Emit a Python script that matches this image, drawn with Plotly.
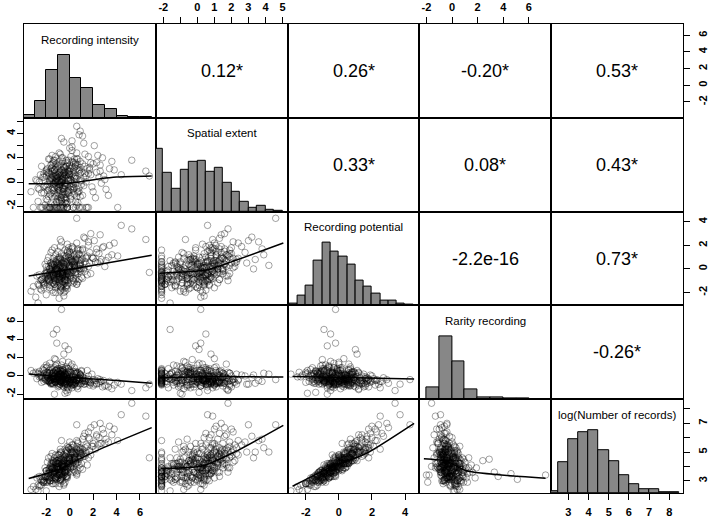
import plotly.graph_objects as go
from plotly.subplots import make_subplots

# ---------------- data (estimated) ----------------
var_names = ["Recording intensity", "Spatial extent", "Recording potential",
             "Rarity recording", "log(Number of records)"]

recording_intensity = [
    -0.6, -1.4, 0.4, 2.3, -2.2, -0.9, 1.1, -1.7, 0.2, -0.3,
    -1.1, -0.4, 0.7, -1.9, -0.8, 1.6, -2.7, -0.2, 0.9, -1.3,
    -0.7, 3.4, -1.6, 0.1, -0.5, -2.4, 1.4, -1.0, -0.1, 0.6,
    -1.8, -0.3, 2.0, -1.2, 0.3, -0.8, -1.5, 4.4, -0.6, 0.8,
    -2.0, -0.2, 1.2, -1.1, 0.0, -0.9, -3.3, 0.5, -1.4, 1.9,
    -0.4, -1.7, 0.9, -0.7, 2.8, -1.2, -0.1, 0.4, -2.1, -0.5,
    1.5, -1.0, 0.2, -2.5, -0.8, 3.1, -1.3, 0.6, -0.3, -1.6,
    1.0, -0.9, -0.2, 2.5, -1.9, 0.0, -1.1, 0.7, -0.6, 1.3,
    -2.3, -0.4, 0.3, -1.5, 5.3, -0.7, 0.8, -1.2, 1.7, -0.1,
    -2.8, 0.5, -0.9, 2.2, -1.4, -0.5, 0.1, -1.8, 6.5, -0.3,
    -1.0, 1.1, -2.0, -0.6, 0.4, -1.3, 0.9, -0.2, -1.6, 1.8,
    -0.8, 0.2, -1.1, 2.6, -0.4, -2.6, 0.6, -0.7, 1.4, -1.5,
    0.0, -1.9, 3.0, -0.9, 0.3, -0.2, -1.2, 1.0, -0.5, 2.1,
    -1.7, -0.3, 0.7, -1.0, 4.1, -0.6, 0.1, -2.2, 1.6, -0.8,
    -1.4, 0.5, -0.1, -1.8, 0.8, -0.4, 2.4, -1.1, 0.2, -0.7,
    -3.1, 1.2, -0.5, -1.6, 0.6, -0.9, 3.6, -0.2, -1.3, 0.9,
    -2.0, 0.0, -0.8, 1.5, -1.2, 0.4, -0.4, 2.7, -1.7, -0.1,
    6.8, -0.6, 0.7, -1.5, 0.3, -0.9, -2.4, 1.1, -0.3, -1.0,
    1.8, -0.7, 0.1, -1.9, 0.5, -0.5, 2.9, -1.3, 0.8, -0.2,
    -1.1, 1.3, -0.8, -2.9, 0.2, 3.3, -0.6, -1.5, 0.6, -0.4,
    -1.2, -0.5, -1.8, 0.3, -0.9, -1.5, 0.1, -0.7, -2.2, -0.2,
    -1.0, 0.6, -1.4, -0.6, -1.7, 0.0, -0.8, -1.3, 0.5, -0.4,
    -1.1, -2.5, 0.2, -0.9, -1.6, -0.3, 1.2, -1.2, -0.1, -2.0,
    -0.7, 0.8, -1.4, -0.5, -1.9, 0.4, -1.0, -0.2, -1.5, 1.6,
    -0.6, -1.1, 0.0, -2.3, -0.8, 0.7, -1.3, -0.4, -1.7, 0.3,
    -0.9, -1.6, 0.9, -0.3, -1.2, -0.1, -2.1, 0.2, -0.8, -1.4,
    1.4, -0.5, -1.0, -2.6, 0.1, -0.7, -1.5, 0.6, -0.2, -1.1,
    -0.6, -1.8, 0.4, -0.4, -1.3, 2.0, -0.9, -0.1, -1.6, 0.9,
    -0.5, -2.0, -0.8, 0.3, -1.2, -0.3, 1.0, -1.4, -0.6, -2.4,
    0.0, -1.0, -0.2, -1.7, 0.7, -0.7, -1.5, 0.5, -0.9, -1.9,
    1.7, -0.4, -1.1, 0.2, -1.3, -0.6, 2.6, -2.2, -0.1, -0.8,
    0.5, -1.6, -0.3, 1.1, -1.0, -0.5, -1.4, 0.1, -0.7, -2.0,
    0.8, -0.9, -1.2, 0.0, -0.4, 3.8, -1.8, -0.2, 0.6, -1.1,
    -0.6, -1.5, 0.3, -0.8, 1.3, -2.7, -0.3, -1.0, 0.4, -1.3,
    -0.5, -2.1, 0.9, -0.7, -1.7, 0.1, -0.9, 2.3, -1.2, -0.4,
]

spatial_extent = [
    0.3, -2.1, 1.2, 0.8, -0.4, 1.7, -1.1, 0.1, 2.6, -1.8,
    -2.1, 0.6, 1.4, -0.7, 0.2, 2.1, -1.6, -0.2, -2.1, 0.9,
    -1.3, 1.1, 0.4, -0.6, 1.3, -2.1, 0.0, -0.9, 1.8, -1.9,
    0.7, 0.5, 1.5, -0.3, -2.1, 2.3, -1.2, 0.6, -0.5, 0.9,
    1.0, -1.7, 3.2, 0.2, 1.1, -2.1, -0.8, 0.3, 1.6, -0.4,
    -1.4, -2.1, 0.7, 0.0, 2.0, 1.2, -0.9, 1.9, -1.9, 0.8,
    -2.1, 0.4, -0.1, 0.6, 1.4, -0.6, -0.5, 2.4, -2.1, 0.9,
    0.1, -1.0, 1.5, 0.4, -0.2, 2.8, -1.6, -0.8, 0.6, 1.3,
    -2.1, -0.3, 0.5, 2.2, 1.8, -1.1, -2.1, 0.3, 1.0, -0.7,
    0.1, 1.6, -0.4, -1.3, 0.5, -2.1, 0.2, 1.9, 0.9, -1.5,
    0.0, 3.8, -2.1, 1.0, -0.5, -0.9, 1.2, 0.3, -1.8, 0.6,
    -0.1, 1.7, -2.1, 1.4, 0.8, -0.6, -1.2, 2.0, -2.1, 0.2,
    -0.3, 1.1, 0.2, -1.5, 0.9, -2.1, 1.5, -0.2, 0.4, 3.0,
    -1.0, 1.3, -1.7, 0.6, -2.1, -0.8, 2.1, 0.4, 0.7, -0.2,
    1.8, -2.1, 0.1, -0.6, 1.0, -1.0, 2.2, 0.5, -0.4, 3.6,
    -2.1, 0.4, -1.3, 1.4, -0.6, 0.8, 1.7, -2.1, -0.1, 4.2,
    -1.4, 0.9, -0.7, 1.1, 0.0, -1.0, 1.2, -0.1, -2.1, 0.7,
    0.5, -1.9, 1.9, 0.3, -0.4, 2.4, -0.9, -2.1, 0.6, -0.5,
    1.6, 0.2, -1.2, 0.8, 1.5, -2.1, 0.5, 1.0, -0.8, 0.1,
    -1.7, 2.3, -0.3, 0.2, 1.3, -1.1, 0.5, -2.1, 4.6, -0.1,
    0.5, -0.8, -2.1, 1.6, 0.1, 1.2, -0.4, -1.6, 0.7, 1.0,
    -2.1, 0.3, -0.5, 2.0, 0.0, -1.1, 0.8, -1.9, 1.3, -0.2,
    1.5, -2.1, 0.6, -0.7, 0.3, 1.8, -0.3, -1.2, 0.4, 0.9,
    -2.1, 3.9, -0.1, 0.7, -1.5, 0.0, 1.1, -0.9, 0.6, -2.1,
    0.2, -0.4, 1.4, 0.4, -1.3, 1.0, -2.1, 0.9, 1.9, -0.6,
    0.4, -0.9, 1.7, -1.8, 0.8, 0.1, -0.3, 3.4, -2.1, 0.2,
    0.5, -0.5, 1.3, 0.0, -1.4, 0.6, -0.6, 1.1, -2.1, 0.0,
    1.7, -1.2, 0.3, -0.1, 1.0, -0.8, -1.7, 0.9, -2.1, 0.1,
    1.2, -0.4, 0.5, -0.2, 2.1, -1.0, 0.8, -0.2, -2.1, 1.3,
    0.6, -0.6, 1.6, 0.2, -0.9, 0.0, 1.5, -1.6, 0.7, -2.1,
    1.2, 0.3, -1.1, 2.9, 0.4, -0.4, 0.9, -0.9, 0.8, -2.1,
    0.5, 1.1, -1.3, 1.5, 0.1, 3.3, -0.7, 0.2, -1.5, 0.5,
    -0.5, 1.4, -2.1, 0.7, -0.3, 1.0, 0.8, -0.8, 1.9, 0.3,
    -1.0, 0.9, -2.1, 0.0, 0.7, -0.5, 1.3, -1.4, 0.4, 1.8,
    -0.6, 0.1, -1.2, 1.0, -2.1, 1.1, -0.2, 1.6, 0.6, -1.7,
]

recording_potential = [
    -0.5, -1.2, 0.6, 1.4, -1.6, 0.2, -0.8, -0.3, 1.9, -0.9,
    -0.7, -1.1, 0.9, -0.6, 0.1, 2.3, -2.9, -0.4, -0.2, -0.8,
    -1.4, 2.0, 0.3, -0.6, 0.7, -1.8, 0.4, -0.1, 1.2, -1.3,
    -0.9, 0.5, 0.9, -1.0, 0.6, 0.8, -0.5, 3.7, -1.7, 0.0,
    -0.4, -0.7, 2.7, -0.2, 1.5, -2.5, -1.9, -0.3, 0.4, 1.0,
    -0.6, -1.1, 1.6, -0.8, 1.8, 0.0, -1.2, 0.3, -0.4, 1.1,
    -0.5, -1.4, 0.2, -1.0, 1.9, 0.7, -0.3, 2.2, -1.5, 0.5,
    -0.7, 0.6, -0.2, 1.3, -1.3, 1.4, -0.9, 0.1, -0.4, 2.6,
    -0.8, 0.9, -1.0, 0.2, 3.4, -0.1, 0.3, -2.0, 0.5, 0.0,
    -0.6, 0.8, -1.2, 0.6, -0.5, 0.1, -0.8, 1.0, 2.5, -1.6,
    0.4, 1.7, -2.2, -0.3, 1.2, -0.7, 0.0, 2.1, -0.2, -0.4,
    -1.5, 0.6, -0.4, 2.9, -0.9, -1.4, -0.2, 1.3, 0.9, -1.8,
    0.3, 0.7, 0.2, -0.6, 1.8, -1.0, -0.1, 0.8, -2.3, 2.4,
    0.0, 0.4, -1.1, 1.5, 1.1, -0.5, 0.9, -1.2, 2.0, 0.2,
    -0.6, -0.9, 1.0, -0.8, 0.7, -1.9, 0.5, 0.6, -0.3, 2.3,
    -1.5, 0.1, 0.5, 1.4, -1.3, -0.7, 1.2, -0.3, 1.8, 0.3,
    -1.0, 0.2, 2.5, 1.1, -1.6, 0.4, -1.2, 0.8, -0.6, 0.7,
    -0.3, -1.3, 1.6, 0.1, -0.1, 0.9, -0.9, 1.6, -0.5, 0.8,
    3.0, -0.2, -0.4, -0.3, 0.0, -2.0, 1.9, 0.3, 1.3, -1.4,
    0.2, 0.6, -0.4, -2.4, 1.7, 1.0, 0.1, 0.4, 4.3, -0.7,
    -0.6, -0.2, -1.0, 0.4, -1.1, 0.3, 0.8, -0.5, -1.4, -0.1,
    -0.8, 1.0, -0.4, 0.5, -1.6, 0.1, 0.9, -1.3, -0.3, -0.9,
    0.0, -1.7, 0.6, 0.3, -0.7, 1.1, 0.0, -1.1, -0.5, -0.2,
    -0.3, 1.2, 0.6, -1.3, -0.9, 0.2, -0.5, 1.4, -0.1, 0.2,
    -0.7, 0.8, 0.0, -1.1, -1.5, 1.7, -0.2, 0.2, -0.4, -0.8,
    0.1, -0.6, 0.7, -1.0, 1.2, -0.4, -0.8, 0.8, -1.9, -0.3,
    1.0, 0.4, -0.9, -0.5, -0.2, 0.7, -1.2, 0.3, 0.6, -0.1,
    -0.6, 0.2, -1.1, 1.6, 0.4, 0.9, -0.7, -0.2, -1.4, 0.5,
    -0.3, -0.3, -1.8, 1.1, 0.1, -0.6, 0.0, 0.9, -1.1, -0.9,
    0.3, -0.2, 1.5, -1.0, -0.4, 0.5, -0.4, 0.7, -0.8, -0.5,
    1.4, -1.0, 0.0, 0.5, -1.3, 0.2, 0.6, -1.2, 1.8, -0.6,
    -0.5, 0.5, -1.4, 0.9, -0.4, 0.0, -2.0, 0.7, 0.3, 0.2,
    -0.9, 1.0, -0.9, -0.6, 0.6, 2.2, -0.7, -1.7, 1.3, 0.0,
    -0.3, 1.6, -1.2, -0.4, -0.2, -1.3, 0.8, 0.5, 0.1, -1.0,
    -0.5, 0.4, 0.4, -1.6, 0.0, 1.2, -0.9, 1.7, 0.6, -0.1,
]

rarity_recording = [
    -0.4, 0.3, -0.7, -0.9, 0.9, -0.2, -0.5, 1.4, 0.1, -0.6,
    -0.3, -0.8, 0.4, -0.1, 0.6, -0.4, 0.2, -1.2, -0.9, 0.0,
    0.5, -0.6, -0.5, 1.1, -0.7, -0.2, -0.3, 0.8, -1.5, 0.3,
    -0.6, 0.0, -1.1, 1.8, -0.4, 0.2, -0.8, -0.9, 0.7, -0.6,
    0.1, -1.3, -0.2, 3.6, -0.8, -0.1, 0.6, -0.7, -0.4, 0.2,
    -1.0, 0.4, -0.3, 1.2, -1.2, -0.6, 0.5, -0.9, -0.2, 2.4,
    -0.6, -0.4, -0.1, 0.0, -0.7, -1.0, 0.9, -0.5, -0.8, -0.3,
    0.6, -1.1, 0.3, -0.8, -0.5, 0.0, 5.1, -1.4, 0.4, -0.6,
    0.7, -0.2, -0.9, -0.7, -1.6, 0.1, -0.4, 0.2, -1.0, 1.5,
    -0.3, 0.0, -0.9, -0.5, 4.6, 0.6, -0.7, 0.3, -1.3, -0.4,
    -0.2, -0.6, 0.1, 0.9, -1.0, -2.0, 0.1, -0.3, -0.9, -0.7,
    0.2, 1.3, -0.5, -0.4, -0.8, 0.5, -0.2, -0.5, -0.8, 0.0,
    -0.6, 1.0, -1.1, 0.3, -0.4, 0.8, -0.7, 0.5, -0.1, -0.9,
    -0.4, 0.1, -0.3, -1.2, -0.7, 1.6, -0.4, -0.6, 0.0, -0.9,
    0.4, -0.5, 2.9, -0.2, -0.8, -1.9, -0.3, 0.7, -1.3, -0.5,
    0.3, -0.5, -0.1, -0.8, 0.4, 0.0, -1.4, -1.0, -0.4, 0.2,
    1.2, -0.7, -0.6, 0.6, -0.3, -0.9, 0.2, -0.6, -0.5, 0.8,
    -0.9, -0.2, -1.1, 0.1, 0.5, -0.4, -0.7, -0.3, -1.6, 0.4,
    -0.8, 7.3, -0.6, -0.1, 0.3, -0.7, -0.5, 1.9, -0.2, -1.8,
    0.0, -0.9, 0.6, 0.4, -0.5, -1.2, -0.3, 0.2, -0.4, 3.3,
    -0.3, 0.2, -0.5, -0.6, 0.1, -0.8, 0.4, -0.4, 0.6, -0.9,
    -0.2, -0.5, 0.3, 0.0, -0.7, -0.2, 0.5, -0.6, -0.8, 0.8,
    -0.1, 0.2, -1.0, 0.1, -0.4, -0.6, -0.9, 1.1, -0.3, -0.5,
    -0.7, 0.3, -0.1, 0.0, 0.4, -0.4, -0.8, -0.5, 0.7, -0.6,
    -1.1, 0.2, 0.6, -0.2, -0.6, -0.2, 0.0, -0.4, 0.3, -0.7,
    -0.5, 0.9, -0.3, -0.1, -0.7, 0.4, -0.3, -0.8, 0.3, -0.9,
    -0.5, 0.0, 0.5, -0.1, -0.7, 0.2, -0.4, -1.2, -0.3, 0.6,
    -0.6, 0.1, 0.3, -0.9, -0.2, -0.4, 0.8, -0.5, -0.8, 0.1,
    -0.2, 0.4, -0.6, -0.1, -0.7, 1.0, -0.8, -0.3, 0.5, 0.0,
    -0.4, -1.0, 0.2, 0.6, -0.5, -0.7, -0.2, 0.2, -0.1, 0.1,
    -0.7, -0.4, 0.3, -0.9, 0.0, 0.7, -0.6, 0.2, -0.3, -0.9,
    0.5, -0.5, -0.2, -0.1, -0.6, 0.1, 0.4, -1.1, -0.3, 0.9,
    -0.4, -0.2, 0.6, -0.8, 0.3, -1.0, -0.6, 0.0, -0.5, 1.3,
    -0.8, -0.1, -0.4, 0.2, -0.6, 0.3, -0.7, -0.2, 0.9, -0.3,
    -1.2, -0.4, 0.1, 0.0, -0.6, 0.4, -0.5, -0.8, 0.6, -0.3,
]

log_records = [
    4.1, 3.0, 4.7, 6.2, 2.9, 4.5, 3.8, 3.6, 5.5, 3.7,
    3.3, 3.5, 5.1, 3.2, 4.0, 6.4, 2.3, 4.2, 3.9, 3.7,
    3.1, 6.8, 4.1, 3.9, 4.8, 2.7, 5.0, 3.8, 5.3, 3.4,
    3.5, 4.5, 5.6, 3.2, 4.4, 4.9, 3.6, 7.6, 3.0, 4.6,
    3.7, 3.9, 6.1, 3.3, 5.2, 2.6, 2.4, 4.3, 4.2, 5.4,
    3.8, 3.0, 5.3, 3.5, 6.6, 4.3, 3.6, 4.8, 3.3, 4.4,
    4.1, 3.2, 4.4, 3.1, 5.0, 5.9, 3.6, 5.8, 3.3, 4.0,
    4.2, 4.3, 4.6, 6.0, 2.9, 5.7, 3.1, 4.6, 3.9, 6.3,
    2.9, 4.7, 3.8, 4.4, 8.4, 4.0, 4.5, 2.8, 5.1, 4.1,
    3.2, 4.9, 3.4, 5.2, 3.5, 3.9, 3.9, 4.6, 7.5, 3.2,
    4.2, 5.9, 2.3, 4.0, 5.0, 3.4, 4.7, 5.4, 3.6, 4.8,
    3.1, 4.6, 3.5, 7.0, 3.6, 2.6, 4.2, 5.0, 4.9, 2.8,
    4.5, 4.3, 5.6, 3.5, 5.5, 3.3, 4.1, 4.9, 2.7, 6.9,
    3.8, 4.6, 3.7, 4.8, 5.8, 3.6, 5.2, 3.0, 6.0, 4.3,
    3.9, 3.6, 4.5, 3.3, 5.0, 2.9, 5.5, 4.4, 4.2, 5.8,
    2.6, 4.7, 4.2, 4.7, 3.5, 3.8, 6.2, 3.8, 4.6, 5.0,
    2.9, 4.5, 5.2, 5.4, 3.1, 4.5, 3.6, 5.6, 3.2, 4.6,
    4.6, 3.3, 5.7, 3.9, 4.3, 4.8, 3.0, 5.0, 4.0, 4.4,
    6.7, 3.4, 4.0, 3.5, 4.4, 2.8, 6.3, 3.9, 5.1, 3.4,
    3.8, 5.3, 3.8, 2.4, 5.3, 5.7, 4.3, 3.9, 6.9, 3.6,
    3.7, 4.0, 3.1, 4.9, 3.4, 4.2, 4.8, 3.6, 3.0, 4.4,
    3.4, 5.2, 3.7, 4.7, 3.0, 4.3, 4.6, 3.1, 4.5, 3.6,
    4.2, 2.7, 5.0, 4.2, 3.5, 5.1, 4.8, 3.2, 4.2, 3.7,
    3.7, 5.3, 4.3, 3.4, 3.0, 4.6, 3.9, 5.0, 3.8, 4.6,
    3.9, 4.4, 4.5, 3.1, 3.1, 5.6, 3.6, 4.4, 3.9, 4.0,
    4.2, 3.3, 5.2, 3.5, 4.8, 4.0, 3.2, 5.0, 2.8, 3.9,
    5.5, 4.4, 3.6, 3.3, 4.1, 4.5, 3.2, 4.9, 4.2, 3.9,
    4.1, 3.8, 3.7, 5.2, 4.3, 5.4, 3.4, 4.4, 3.0, 4.9,
    4.1, 3.3, 3.0, 5.0, 4.3, 3.8, 4.8, 4.4, 3.3, 3.3,
    4.6, 4.0, 5.1, 3.2, 4.3, 4.5, 3.9, 4.6, 3.7, 3.3,
    5.9, 3.7, 4.0, 5.0, 3.3, 4.2, 5.6, 2.9, 5.3, 3.6,
    4.2, 4.2, 3.3, 5.2, 3.8, 4.6, 2.8, 4.9, 4.2, 3.7,
    4.1, 4.8, 3.2, 4.2, 4.5, 6.6, 3.5, 3.2, 5.4, 3.9,
    4.0, 4.9, 3.6, 3.9, 4.7, 2.7, 4.9, 4.2, 4.5, 3.6,
    4.0, 3.9, 4.6, 3.2, 3.7, 5.0, 3.6, 6.1, 4.2, 4.0,
]

# histogram bins on the diagonal: first left edge, bin width, relative heights
hist_starts = [-4.0, -2.5, -3.0, -2.0, 2.0]
hist_widths = [1.0, 0.5, 0.5, 1.0, 0.5]
hist_ri = [7, 49, 144, 187, 120, 90, 39, 25, 4, 3, 2]
hist_se = [186, 115, 67, 125, 148, 150, 118, 131, 85, 59, 28, 11, 17, 5, 2]
hist_rp = [5, 28, 60, 134, 187, 160, 147, 122, 75, 55, 35, 15, 15, 5, 2]
hist_rr = [35, 187, 114, 29, 6, 5, 2, 1]
hist_lr = [6, 91, 162, 181, 187, 127, 96, 53, 26, 10, 12, 2, 1]

# correlation texts of the upper panels: (row var, col var, text)
corr_rows = [0, 0, 0, 0, 1, 1, 1, 2, 2, 3]
corr_cols = [1, 2, 3, 4, 2, 3, 4, 3, 4, 4]
corr_texts = ["0.12*", "0.26*", "-0.20*", "0.53*", "0.33*", "0.08*", "0.43*",
              "-2.2e-16", "0.73*", "-0.26*"]

# smoother lines of the lower panels (x = column variable, y = row variable)
smooth_se_ri_x = [-3.5, 0.1, 2.6, 4.0, 7.0]
smooth_se_ri_y = [-0.15, -0.08, 0.28, 0.42, 0.5]
smooth_rp_ri_x = [-3.5, 0.1, 7.0]
smooth_rp_ri_y = [-0.6, -0.03, 1.16]
smooth_rp_se_x = [-2.2, 0.5, 2.0, 5.05]
smooth_rp_se_y = [-0.37, -0.1, 0.6, 2.2]
smooth_rr_ri_x = [-3.5, 0.1, 4.0, 7.0]
smooth_rr_ri_y = [0.22, -0.18, -0.5, -0.8]
smooth_rr_se_x = [-2.2, 1.0, 5.05]
smooth_rr_se_y = [-0.2, -0.05, -0.12]
smooth_rr_rp_x = [-2.8, 0.3, 4.55]
smooth_rr_rp_y = [-0.07, -0.17, -0.33]
smooth_lr_ri_x = [-3.5, -1.0, 0.2, 2.6, 7.0]
smooth_lr_ri_y = [3.16, 3.75, 4.26, 5.2, 6.7]
smooth_lr_se_x = [-2.15, 0.3, 2.1, 5.05]
smooth_lr_se_y = [3.85, 4.03, 4.95, 6.86]
smooth_lr_rp_x = [-2.8, -0.55, 1.65, 4.55]
smooth_lr_rp_y = [2.62, 3.92, 4.9, 7.0]
smooth_lr_rr_x = [-2.2, -0.45, 1.1, 7.3]
smooth_lr_rr_y = [4.53, 4.37, 3.7, 3.18]

# axis tick values / labels of the outer axes
ticks_ri = [-2, 0, 2, 4, 6]
ticks_se = [-2, -1, 0, 1, 2, 3, 4, 5]
labels_se_top = ["-2", "", "0", "1", "2", "3", "4", "5"]
labels_se_left = ["-2", "", "0", "", "2", "", "4", ""]
ticks_rp = [-2, 0, 2, 4]
ticks_rr = [-2, 0, 2, 4, 6]
ticks_lr = [3, 4, 5, 6, 7, 8]
labels_lr_right = ["3", "", "5", "", "7", ""]

# ---------------- figure ----------------
variables = [recording_intensity, spatial_extent, recording_potential,
             rarity_recording, log_records]
hists = [hist_ri, hist_se, hist_rp, hist_rr, hist_lr]
axis_ranges = [[-3.9, 7.35], [-2.44, 5.3], [-3.1, 4.87], [-2.55, 7.74], [2.15, 8.68]]
smooths = {
    (1, 0): (smooth_se_ri_x, smooth_se_ri_y),
    (2, 0): (smooth_rp_ri_x, smooth_rp_ri_y),
    (2, 1): (smooth_rp_se_x, smooth_rp_se_y),
    (3, 0): (smooth_rr_ri_x, smooth_rr_ri_y),
    (3, 1): (smooth_rr_se_x, smooth_rr_se_y),
    (3, 2): (smooth_rr_rp_x, smooth_rr_rp_y),
    (4, 0): (smooth_lr_ri_x, smooth_lr_ri_y),
    (4, 1): (smooth_lr_se_x, smooth_lr_se_y),
    (4, 2): (smooth_lr_rp_x, smooth_lr_rp_y),
    (4, 3): (smooth_lr_rr_x, smooth_lr_rr_y),
}

FONT = "Liberation Sans, Arial, Helvetica, sans-serif"
N = 5


def axname(prefix, k):
    return prefix if k == 1 else f"{prefix}{k}"


fig = make_subplots(rows=N, cols=N, horizontal_spacing=0, vertical_spacing=0)

for i in range(N):
    for j in range(N):
        r, c = i + 1, j + 1
        if i > j:
            fig.add_trace(go.Scatter(
                x=variables[j], y=variables[i], mode="markers",
                marker=dict(symbol="circle-open", size=6.5,
                            color="rgba(0,0,0,0.36)", line=dict(width=1)),
                showlegend=False, hoverinfo="skip"), row=r, col=c)
            sx, sy = smooths[(i, j)]
            fig.add_trace(go.Scatter(
                x=sx, y=sy, mode="lines",
                line=dict(color="black", width=1.5, shape="spline", smoothing=0.6),
                showlegend=False, hoverinfo="skip"), row=r, col=c)
        elif i == j:
            counts = hists[i]
            top = max(counts)
            start, w = hist_starts[i], hist_widths[i]
            centers = [start + (k + 0.5) * w for k in range(len(counts))]
            heights = [v / top for v in counts]
            fig.add_trace(go.Bar(
                x=centers, y=heights, width=w,
                marker=dict(color="#878787", line=dict(color="black", width=1)),
                showlegend=False, hoverinfo="skip"), row=r, col=c)
        else:
            # empty panel that only carries the correlation text
            fig.add_trace(go.Scatter(x=[], y=[], mode="markers", showlegend=False,
                                     hoverinfo="skip"), row=r, col=c)

axis_common = dict(showgrid=False, zeroline=False, showline=True, mirror=True,
                   linecolor="black", linewidth=1, ticks="", showticklabels=False,
                   automargin=False)
tick_font = dict(family=FONT, size=11, color="black", weight="bold")

for i in range(N):
    for j in range(N):
        r, c = i + 1, j + 1
        fig.update_xaxes(row=r, col=c, range=axis_ranges[j], **axis_common)
        if i == j:
            fig.update_yaxes(row=r, col=c, range=[0, 1.5], **axis_common)
        else:
            fig.update_yaxes(row=r, col=c, range=axis_ranges[i], **axis_common)

tick_style = dict(ticks="outside", ticklen=6, tickwidth=1, tickcolor="black",
                  showticklabels=True, tickfont=tick_font)
# top axes
fig.update_xaxes(row=1, col=2, side="top", tickvals=ticks_se, ticktext=labels_se_top,
                 ticklabelstandoff=2, **tick_style)
fig.update_xaxes(row=1, col=4, side="top", tickvals=ticks_rr,
                 ticktext=[str(v) for v in ticks_rr], ticklabelstandoff=2, **tick_style)
# bottom axes
fig.update_xaxes(row=5, col=1, tickvals=ticks_ri, ticktext=[str(v) for v in ticks_ri],
                 ticklabelstandoff=3, **tick_style)
fig.update_xaxes(row=5, col=3, tickvals=ticks_rp, ticktext=[str(v) for v in ticks_rp],
                 ticklabelstandoff=3, **tick_style)
fig.update_xaxes(row=5, col=5, tickvals=ticks_lr, ticktext=[str(v) for v in ticks_lr],
                 ticklabelstandoff=3, **tick_style)
# left axes
fig.update_yaxes(row=2, col=1, tickvals=ticks_se, ticktext=labels_se_left,
                 tickangle=-90, ticklabelstandoff=-2, **tick_style)
fig.update_yaxes(row=4, col=1, tickvals=ticks_rr, ticktext=[str(v) for v in ticks_rr],
                 tickangle=-90, ticklabelstandoff=-2, **tick_style)
# right axes
fig.update_yaxes(row=1, col=5, side="right", tickvals=ticks_ri,
                 ticktext=[str(v) for v in ticks_ri], tickangle=-90,
                 ticklabelstandoff=4, **tick_style)
fig.update_yaxes(row=3, col=5, side="right", tickvals=ticks_rp,
                 ticktext=[str(v) for v in ticks_rp], tickangle=-90,
                 ticklabelstandoff=4, **tick_style)

# overlay axis carrying the log(Number of records) scale at the right of the last histogram
fig.add_trace(go.Scatter(x=[], y=[], xaxis="x25", yaxis="y26", showlegend=False,
                         hoverinfo="skip"))
fig.update_layout(yaxis26=dict(overlaying="y25", anchor="x25", side="right",
                               range=axis_ranges[4], showgrid=False, zeroline=False,
                               showline=False, tickvals=ticks_lr, ticktext=labels_lr_right,
                               tickangle=-90, ticklabelstandoff=4, ticks="outside",
                               ticklen=6, tickwidth=1, tickcolor="black",
                               tickfont=tick_font, automargin=False))

annotations = []
# diagonal variable names
for i in range(N):
    k = i * N + i + 1
    annotations.append(dict(
        text=var_names[i], x=0.5, y=1 - 15.5 / 93.8,
        xref=axname("x", k) + " domain", yref=axname("y", k) + " domain",
        showarrow=False, xanchor="center", yanchor="middle",
        font=dict(family=FONT, size=11.5, color="black")))
# correlation texts
for ri, ci, t in zip(corr_rows, corr_cols, corr_texts):
    k = ri * N + ci + 1
    annotations.append(dict(
        text=t, x=0.5, y=0.5,
        xref=axname("x", k) + " domain", yref=axname("y", k) + " domain",
        showarrow=False, xanchor="center", yanchor="middle",
        font=dict(family=FONT, size=18, color="black")))

fig.update_layout(
    width=708, height=518,
    margin=dict(l=24, r=25, t=24, b=25),
    paper_bgcolor="white", plot_bgcolor="white",
    annotations=annotations, bargap=0, showlegend=False,
    font=dict(family=FONT, color="black"),
)

# the page's default body margin would shift the figure by 8 px; remove it
fig.write_html("out.html", config={"displayModeBar": False},
               post_script="document.body.style.margin='0';")
